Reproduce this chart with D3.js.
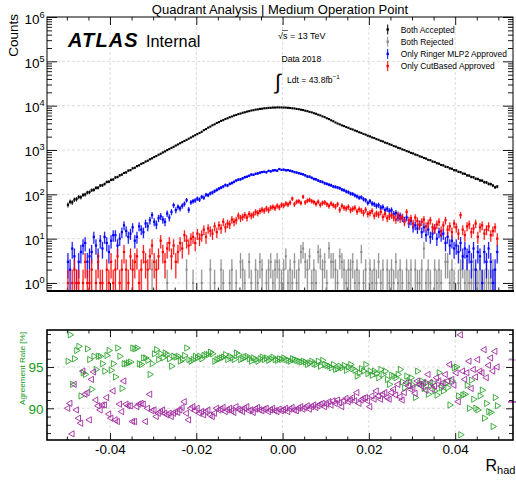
<!DOCTYPE html>
<html><head><meta charset="utf-8">
<script src="https://cdn.jsdelivr.net/npm/d3@7"></script>
<style>
html,body{margin:0;padding:0;background:#fff;}
svg{display:block;font-family:"Liberation Sans",Arial,Helvetica,sans-serif;}
</style></head><body>
<svg id="chart" width="516" height="486"></svg>
<script>
// R_had distribution: 200 bins of width 0.0005 between -0.05 and 0.05
const binStart = -0.05, binWidth = 0.0005;

const bothAccepted = [
58,68,66,76,78,87,86,97,99,110,
112,124,126,140,141,158,160,171,190,193,
212,216,240,246,268,279,303,312,343,352,
386,398,432,450,488,508,548,574,618,648,
694,730,782,825,880,930,992,1048,1118,1182,
1260,1334,1420,1503,1600,1695,1800,1910,2030,2155,
2285,2425,2570,2805,2960,3195,3370,3620,3800,4070,
4255,4530,4720,5010,5200,5490,5690,5980,6170,6460,
6640,6920,7090,7360,7520,7770,7910,8130,8250,8460,
8540,8720,8780,8930,8950,9070,9060,9140,9110,9120,
9060,9040,8940,8870,8730,8640,8450,8330,8100,7960,
7700,7530,7250,7060,6760,6560,6250,6040,5730,5510,
5200,4980,4680,4460,4170,3960,3780,3590,3460,3290,
3170,3000,2900,2750,2650,2510,2430,2300,2220,2100,
2030,1920,1860,1760,1700,1610,1560,1470,1420,1350,
1305,1230,1190,1125,1090,1030,998,945,912,862,
836,790,765,720,700,660,642,600,588,550,
538,503,492,460,450,420,412,385,378,350,
346,322,316,294,290,268,265,246,243,224,
222,206,204,188,186,172,170,158,144,150];

const bothRejected = [
0,0,0,0,0,0,0,0,0,0,
0,0,0,0,0,0,0,0,0,0,
0,0,0,0,0,0,0,0,0,0,
0,0,0,0,0,0,0,0,0,2,
0,0,0,0,0,0,1,0,0,0,
0,0,0,0,0,2,0,0,1,0,
0,0,1,0,0,0,2,0,1,0,
0,2,1,0,0,1,2,0,1,0,
3,2,1,0,3,1,0,2,1,3,
2,0,1,2,3,1,2,3,2,1,
2,4,1,2,1,3,1,2,5,6,
3,2,4,1,2,1,5,4,2,3,
1,6,3,3,2,1,4,3,2,1,
2,2,3,1,2,1,5,1,2,0,
2,1,2,1,3,1,2,0,2,1,
2,1,3,1,2,1,0,2,1,2,
0,2,1,1,2,6,1,2,1,0,
2,1,2,1,0,3,3,1,2,1,
0,1,2,3,1,2,1,1,2,1,
1,2,1,1,2,1,1,2,1,0];

const onlyRinger = [
3,2,6,4,1,3,5,7,8,3,
4,5,11,7,4,9,6,11,8,5,
9,12,12,7,10,14,20,15,11,13,
18,9,11,19,16,14,22,19,26,34,
24,21,29,32,27,24,37,30,40,57,
44,52,48,55,61,74,45,66,70,73,
80,76,88,84,98,96,105,110,118,126,
135,142,150,162,158,172,180,191,205,214,
219,230,244,250,262,280,275,290,296,308,
318,322,315,338,330,345,350,342,372,355,
360,348,352,340,332,318,310,300,290,282,
268,252,250,236,222,218,205,196,190,178,
172,165,160,150,147,142,138,128,124,116,
112,104,102,95,90,84,86,78,74,64,
70,62,60,55,57,50,52,44,47,42,
44,36,38,30,33,29,26,30,22,25,
18,20,17,21,14,18,12,16,11,13,
17,10,14,12,13,8,11,7,9,6,
7,5,8,4,6,4,5,3,6,2,
5,4,1,5,3,6,3,1,2,5];

const onlyCutBased = [
1,0,1,2,1,1,0,1,3,1,
1,2,0,1,3,1,1,0,2,1,
3,1,2,4,1,2,5,2,1,4,
2,3,4,1,2,5,3,2,4,7,
3,2,4,9,5,3,6,8,4,7,
3,5,8,6,12,9,7,10,11,8,
13,10,12,16,11,17,15,13,19,14,
20,17,24,18,22,21,27,24,26,33,
29,31,34,30,36,33,35,40,38,42,
45,43,48,44,50,52,49,55,51,58,
56,62,59,65,80,60,68,70,64,88,
66,72,75,70,67,61,68,58,64,66,
60,55,62,57,53,60,45,55,50,48,
52,44,47,50,41,46,43,38,45,36,
38,42,33,37,35,40,31,36,29,32,
34,30,27,35,28,31,24,40,26,29,
22,30,25,20,24,27,19,22,26,18,
17,21,24,15,20,26,16,19,14,22,
18,13,34,16,12,19,21,14,17,22,
11,18,20,13,16,19,12,15,18,10];

// agreement rates in percent, per bin
const agreementRinger = [
95.7,98.9,92.9,96.0,97.0,97.5,91.5,94.3,94.1,97.2,
95.9,92.3,96.3,94.7,96.3,96.3,95.4,94.5,96.4,97.0,
94.6,95.4,93.8,97.3,96.3,92.4,95.4,95.4,95.5,95.6,
97.3,97.2,97.3,95.4,95.3,96.1,96.1,95.8,94.1,95.4,
96.6,97.1,95.9,96.6,96.1,96.7,96.5,96.0,95.1,96.3,
96.2,96.3,95.7,95.9,96.4,97.3,95.9,95.7,95.9,96.3,
96.1,96.3,96.0,96.4,96.5,96.5,96.8,96.6,95.7,95.9,
96.0,96.1,96.2,96.5,95.9,96.3,96.1,95.9,96.7,96.5,
95.9,96.0,96.2,96.3,96.0,95.7,96.1,95.9,95.7,96.0,
96.2,95.9,96.1,95.8,96.0,96.2,95.9,95.8,96.0,95.9,
96.1,95.9,95.8,95.7,96.0,95.9,95.8,95.7,95.6,95.7,
95.6,95.3,95.5,95.7,95.4,95.3,95.7,95.1,95.8,95.3,
95.2,95.1,94.9,95.3,94.7,94.8,95.1,94.9,95.2,94.6,
95.0,95.3,94.8,94.6,93.9,94.3,94.8,94.5,95.3,94.2,
94.5,94.0,94.5,94.2,93.7,94.7,94.1,94.5,93.5,92.9,
94.0,93.9,93.7,94.1,94.7,93.2,92.5,93.9,93.3,93.7,
92.8,91.3,94.5,93.0,93.3,92.4,93.1,91.7,92.8,93.1,
92.1,91.6,94.3,92.5,92.1,93.0,92.5,90.4,93.3,94.9,
95.0,91.5,86.8,91.6,91.7,92.8,90.0,93.4,91.1,90.0,
89.8,91.5,92.2,88.8,90.6,89.6,89.5,87.8,91.3,90.3];

const agreementCutBased = [
90.0,90.6,86.9,92.9,89.8,88.8,88.2,94.5,91.7,91.9,
88.6,93.5,94.4,91.0,90.3,89.8,90.4,90.4,91.3,89.3,
88.8,92.1,88.6,88.4,90.5,89.6,93.3,90.5,90.3,90.3,
88.4,88.4,90.2,90.5,90.6,90.5,88.4,90.0,91.7,89.7,
89.8,89.0,89.4,89.6,89.8,89.4,89.2,89.4,89.0,89.4,
89.6,89.5,89.8,90.1,90.8,89.4,88.6,90.0,90.2,89.7,
90.0,89.4,89.6,89.2,89.6,89.8,89.2,89.0,89.4,90.0,
89.8,89.9,90.1,89.6,89.8,90.0,89.7,89.5,90.2,89.9,
89.8,89.6,90.0,90.2,89.7,89.8,89.5,89.9,90.1,89.8,
89.7,89.9,90.0,89.6,89.8,90.0,89.7,89.6,89.9,89.7,
89.8,90.0,89.6,89.9,90.1,89.8,89.7,90.0,90.2,89.9,
90.1,90.3,89.9,90.2,90.4,90.1,90.3,90.5,90.6,90.2,
90.5,90.8,90.4,90.9,90.6,91.0,90.7,90.2,90.9,91.2,
90.8,91.0,91.3,90.9,91.9,90.6,91.0,91.2,91.3,90.9,
90.2,91.5,91.1,92.1,91.5,91.1,91.7,91.9,91.3,91.1,
91.9,92.3,91.6,92.9,91.4,91.0,91.9,93.1,92.7,92.3,
92.5,91.8,93.3,92.9,92.7,93.1,92.2,94.1,93.1,92.3,
92.7,93.7,93.3,92.7,93.1,94.1,93.3,95.3,93.5,92.8,
94.3,90.8,98.9,94.5,93.5,94.3,95.7,92.4,94.7,93.8,
95.9,94.5,94.3,97.1,93.7,95.2,96.1,94.5,96.9,95.0];

// overall levels marked on the right edge of the ratio pad
const overallLevels = [95.85, 90.77];

const xTickValues = [-0.04, -0.02, 0, 0.02, 0.04];
const yDecades = [0, 1, 2, 3, 4, 5, 6];
const ratioTickValues = [90, 95];
const legendLabels = ["Both Accepted", "Both Rejected", "Only Ringer MLP2 Approved", "Only CutBased Approved"];
const titleText = "Quadrant Analysis | Medium Operation Point";

const style = {
  accepted: {color: "#000000", band: "rgba(0,0,0,0.12)", mk: 2.1},
  rejected: {color: "#8a8a8a", band: "rgba(160,160,160,0.35)", mk: 2.0},
  ringer:   {color: "#0000ff", band: "rgba(60,60,255,0.35)", mk: 2.2},
  cut:      {color: "#ff0000", band: "rgba(255,60,60,0.35)", mk: 2.2},
  green: "#2ea52e", greenText: "#169a16", magenta: "#a02aa0"
};

const M = {left: 47, right: 513, top1: 17, bottom1: 291, top2: 330, bottom2: 440};
const svg = d3.select("#chart");
svg.append("rect").attr("width", 516).attr("height", 486).attr("fill", "#fff");

const x = d3.scaleLinear().domain([-0.0546, 0.0534]).range([M.left, M.right]);
const yTop = d3.scaleLog().domain([0.66, 1e6]).range([M.bottom1, M.top1]);
const yRat = d3.scaleLinear().domain([86.16, 99.48]).range([M.bottom2, M.top2]);
const binCenter = i => binStart + (i + 0.5) * binWidth;

const defs = svg.append("defs");
defs.append("clipPath").attr("id", "clipTop").append("rect")
  .attr("x", M.left).attr("y", M.top1).attr("width", M.right - M.left).attr("height", M.bottom1 - M.top1);
defs.append("clipPath").attr("id", "clipRat").append("rect")
  .attr("x", M.left).attr("y", M.top2).attr("width", M.right - M.left).attr("height", M.bottom2 - M.top2);

// ---------- grids ----------
const grid = svg.append("g").attr("stroke", "#d4d4d4").attr("stroke-width", 0.8).attr("stroke-dasharray", "3,2");
xTickValues.forEach(v => {
  grid.append("line").attr("x1", x(v)).attr("x2", x(v)).attr("y1", M.top1).attr("y2", M.bottom1);
  grid.append("line").attr("x1", x(v)).attr("x2", x(v)).attr("y1", M.top2).attr("y2", M.bottom2);
});
yDecades.slice(0, -1).forEach(d => {
  grid.append("line").attr("x1", M.left).attr("x2", M.right).attr("y1", yTop(Math.pow(10, d))).attr("y2", yTop(Math.pow(10, d)));
});
ratioTickValues.forEach(v => {
  grid.append("line").attr("x1", M.left).attr("x2", M.right).attr("y1", yRat(v)).attr("y2", yRat(v));
});

// ---------- tick marks ----------
function tickGroup(axisFn, scale, values, size, tx, ty) {
  const g = svg.append("g").attr("transform", `translate(${tx},${ty})`)
    .call(axisFn(scale).tickValues(values).tickSize(size).tickFormat(""));
  g.select(".domain").remove();
  g.selectAll(".tick line").attr("stroke", "#000").attr("stroke-width", 0.9);
  return g;
}
const xMinor = d3.range(-50, 51, 5).map(v => v / 1000).filter(v => Math.abs(Math.round(v * 1000) % 20) !== 0);
const logMinor = [0.7, 0.8, 0.9];
for (let d = 0; d < 6; d++) for (let m = 2; m <= 9; m++) logMinor.push(m * Math.pow(10, d));
const logMajor = yDecades.map(d => Math.pow(10, d));
const ratMinor = d3.range(87, 100).filter(v => !ratioTickValues.includes(v));

// top pad
tickGroup(d3.axisBottom, x, xTickValues, -8, 0, M.bottom1);
tickGroup(d3.axisBottom, x, xMinor, -3.5, 0, M.bottom1);
tickGroup(d3.axisTop, x, xTickValues, -8, 0, M.top1);
tickGroup(d3.axisTop, x, xMinor, -3.5, 0, M.top1);
tickGroup(d3.axisLeft, yTop, logMajor, -10, M.left, 0);
tickGroup(d3.axisLeft, yTop, logMinor, -5, M.left, 0);
tickGroup(d3.axisRight, yTop, logMajor, -10, M.right, 0);
tickGroup(d3.axisRight, yTop, logMinor, -5, M.right, 0);
// ratio pad
tickGroup(d3.axisBottom, x, xTickValues, -7, 0, M.bottom2);
tickGroup(d3.axisBottom, x, xMinor, -3.5, 0, M.bottom2);
tickGroup(d3.axisTop, x, xTickValues, -7, 0, M.top2);
tickGroup(d3.axisTop, x, xMinor, -3.5, 0, M.top2);
tickGroup(d3.axisLeft, yRat, ratioTickValues, -7, M.left, 0);
tickGroup(d3.axisLeft, yRat, ratMinor, -4, M.left, 0);
tickGroup(d3.axisRight, yRat, ratioTickValues, -7, M.right, 0);
tickGroup(d3.axisRight, yRat, ratMinor, -4, M.right, 0);

// ---------- count histograms ----------
const plot = svg.append("g").attr("clip-path", "url(#clipTop)");
const bw = (x(binWidth) - x(0)) * 0.85;
function drawCounts(values, st) {
  const pts = values.map((v, i) => ({c: binCenter(i), v})).filter(d => d.v > 0);
  const g = plot.append("g");
  const hi = d => yTop(d.v + Math.sqrt(d.v));
  const lo = d => {
    const l = d.v - Math.sqrt(d.v);
    return l > yTop.domain()[0] ? yTop(l) : M.bottom1 + 6;
  };
  g.selectAll("rect.band").data(pts).join("rect").attr("class", "band")
    .attr("x", d => x(d.c) - bw / 2).attr("width", bw)
    .attr("y", hi).attr("height", d => lo(d) - hi(d)).attr("fill", st.band);
  g.selectAll("line").data(pts).join("line")
    .attr("x1", d => x(d.c)).attr("x2", d => x(d.c)).attr("y1", hi).attr("y2", lo)
    .attr("stroke", st.color).attr("stroke-width", 0.9);
  g.selectAll("rect.mk").data(pts).join("rect").attr("class", "mk")
    .attr("x", d => x(d.c) - st.mk / 2).attr("y", d => yTop(d.v) - st.mk / 2)
    .attr("width", st.mk).attr("height", st.mk).attr("fill", st.color);
}
drawCounts(bothRejected, style.rejected);
drawCounts(bothAccepted, style.accepted);
drawCounts(onlyRinger, style.ringer);
drawCounts(onlyCutBased, style.cut);

// ---------- agreement rates ----------
const ratio = svg.append("g").attr("clip-path", "url(#clipRat)");
const tri = d3.symbol().type(d3.symbolTriangle).size(17)();
function drawRate(values, color, angle) {
  ratio.append("g").selectAll("path")
    .data(values.map((v, i) => ({c: binCenter(i), v})))
    .join("path").attr("d", tri)
    .attr("transform", d => `translate(${x(d.c)},${yRat(d.v)}) rotate(${angle})`)
    .attr("fill", "none").attr("stroke", color).attr("stroke-width", 0.9);
}
drawRate(agreementRinger, style.green, 90);
drawRate(agreementCutBased, style.magenta, -90);

svg.append("g").selectAll("line").data(overallLevels).join("line")
  .attr("x1", M.right - 5).attr("x2", M.right + 3)
  .attr("y1", d => yRat(d)).attr("y2", d => yRat(d))
  .attr("stroke", (d, i) => i === 0 ? "#d7a0d7" : style.magenta).attr("stroke-width", 1.3);

// ---------- frames ----------
svg.append("rect").attr("x", M.left).attr("y", M.top1).attr("width", M.right - M.left).attr("height", M.bottom1 - M.top1)
  .attr("fill", "none").attr("stroke", "#000").attr("stroke-width", 1);
svg.append("line").attr("x1", M.left).attr("x2", M.right + 1).attr("y1", M.bottom1).attr("y2", M.bottom1)
  .attr("stroke", "#000").attr("stroke-width", 2);
svg.append("rect").attr("x", M.left).attr("y", M.top2).attr("width", M.right - M.left).attr("height", M.bottom2 - M.top2)
  .attr("fill", "none").attr("stroke", "#000").attr("stroke-width", 1.6);

// ---------- axis labels ----------
const yLab = svg.append("g");
yDecades.forEach(d => {
  const yy = yTop(Math.pow(10, d));
  yLab.append("text").attr("x", 39.5).attr("y", yy + 6.5).attr("text-anchor", "end")
    .attr("font-size", 13.5).text("10");
  yLab.append("text").attr("x", 39.6).attr("y", yy + 0.5).attr("font-size", 9.3).text(d);
});
svg.append("g").attr("transform", `translate(0,${M.bottom2})`)
  .call(d3.axisBottom(x).tickValues(xTickValues).tickSize(0).tickPadding(4).tickFormat(d => d.toFixed(2)))
  .call(g => g.select(".domain").remove())
  .selectAll("text").attr("font-size", 13.5).attr("font-family", "'Liberation Sans',Arial,sans-serif").attr("fill", "#000");
svg.append("g").attr("transform", `translate(${M.left - 3.5},0)`)
  .call(d3.axisLeft(yRat).tickValues(ratioTickValues).tickSize(0).tickPadding(0).tickFormat(d3.format("d")))
  .call(g => g.select(".domain").remove())
  .selectAll("text").attr("font-size", 13.5).attr("font-family", "'Liberation Sans',Arial,sans-serif")
  .attr("fill", style.greenText).attr("dy", "0.35em");

svg.append("text").attr("transform", "translate(18,14) rotate(-90)").attr("text-anchor", "end")
  .attr("font-size", 13.5).text("Counts");
svg.append("text").attr("transform", "translate(25,368.5) rotate(-90)").attr("text-anchor", "middle")
  .attr("font-size", 8.1).attr("fill", style.greenText).text("Agreement Rate [%]");
const rh = svg.append("text").attr("x", 485.5).attr("y", 470.5).attr("font-size", 16);
rh.append("tspan").text("R");
rh.append("tspan").attr("font-size", 11).attr("dy", 3.5).text("had");

// ---------- title and labels ----------
svg.append("text").attr("x", 280).attr("y", 14).attr("text-anchor", "middle").attr("font-size", 13).text(titleText);
svg.append("text").attr("x", 68).attr("y", 47).attr("font-size", 20).attr("font-weight", "bold")
  .attr("font-style", "italic").attr("letter-spacing", 1.1).text("ATLAS");
svg.append("text").attr("x", 146).attr("y", 47).attr("font-size", 16.3).text("Internal");

const rs = svg.append("text").attr("x", 278).attr("y", 38.5).attr("font-size", 9);
rs.append("tspan").text("\u221A");
rs.append("tspan").text("s");
rs.append("tspan").text(" = 13 TeV");
{
  const n = rs.node();
  const s1 = n.getEndPositionOfChar(1).x;
  const r0 = n.getStartPositionOfChar(0).x;
  svg.append("line").attr("x1", r0 + 4).attr("x2", s1 + 0.5).attr("y1", 30.5).attr("y2", 30.5)
    .attr("stroke", "#000").attr("stroke-width", 0.6);
}
svg.append("text").attr("x", 281.5).attr("y", 62).attr("font-size", 8.6).text("Data 2018");
svg.append("text").attr("x", 275).attr("y", 89).attr("font-size", 21).attr("font-style", "italic")
  .attr("font-weight", "300").text("\u222B");
const lumi = svg.append("text").attr("x", 287).attr("y", 83).attr("font-size", 8.6);
lumi.append("tspan").text("Ldt = 43.8fb");
lumi.append("tspan").attr("font-size", 6.2).attr("dy", -3.6).text("\u22121");

// ---------- legend ----------
const legendStyles = [style.accepted, style.rejected, style.ringer, style.cut];
const leg = svg.append("g");
legendLabels.forEach((lab, i) => {
  const cy = 29.5 + i * 12.2;
  leg.append("line").attr("x1", 387.7).attr("x2", 387.7).attr("y1", cy - 5).attr("y2", cy + 5)
    .attr("stroke", legendStyles[i].color).attr("stroke-width", 1);
  leg.append("rect").attr("x", 386.5).attr("y", cy - 1.2).attr("width", 2.4).attr("height", 2.4)
    .attr("fill", legendStyles[i].color);
  leg.append("text").attr("x", 400.7).attr("y", cy + 3).attr("font-size", 8.4).text(lab);
});
</script>
</body></html>
